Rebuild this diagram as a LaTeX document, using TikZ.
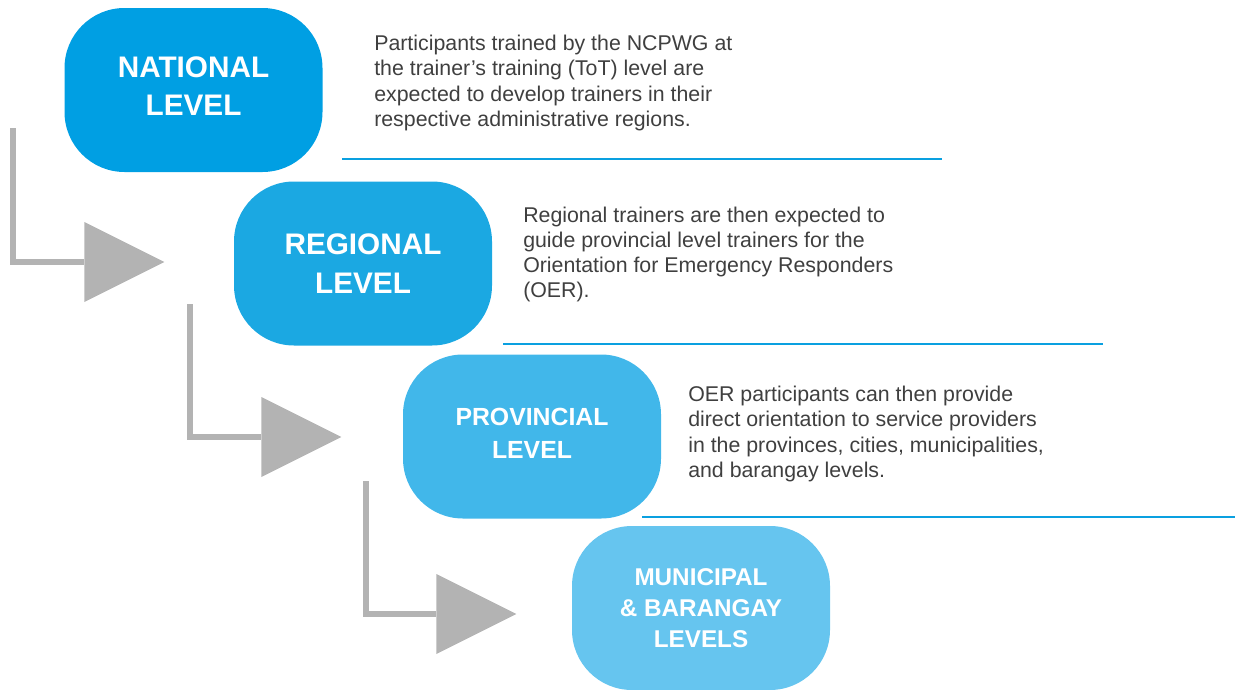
\documentclass[tikz,border=0pt]{standalone}
\usepackage{fontspec}
\setmainfont{Liberation Sans}
\usetikzlibrary{shapes.geometric}

\definecolor{natblue}{HTML}{009FE3}
\definecolor{regblue}{HTML}{1BA8E2}
\definecolor{provblue}{HTML}{41B7EA}
\definecolor{munblue}{HTML}{66C5EF}
\definecolor{ruleblue}{HTML}{0AA0E0}
\definecolor{arrgray}{HTML}{B3B3B3}
\definecolor{notegray}{HTML}{3F3F3F}

\begin{document}
\begin{tikzpicture}[x=0.75pt,y=-0.75pt,
    level/.style={rectangle,rounded corners=45pt,minimum width=193.5pt,
                  minimum height=123pt,text=white,align=center},
    note/.style={anchor=north west,inner sep=0pt,align=left,text=notegray,
                 font=\fontsize{16}{18.9}\selectfont},
    head/.style={isosceles triangle,isosceles triangle stretches,
                 shape border rotate=0,minimum width=60pt,minimum height=60pt,
                 inner sep=0pt,fill=arrgray,anchor=apex},
    flow/.style={draw=arrgray,line width=3.8pt},
    rule/.style={draw=ruleblue,line width=2pt}]
  \useasboundingbox (0,0) rectangle (1235,689);

  % the four levels (the invisible rules lift the text a little)
  \node[level,fill=natblue,font=\bfseries\fontsize{22.3}{28.9}\selectfont]
      (N) at (193.5,90) {NATIONAL\\LEVEL\rule[-6pt]{0pt}{6pt}};
  \node[level,fill=regblue,font=\bfseries\fontsize{22.3}{28.9}\selectfont]
      (R) at (363,263.5) {REGIONAL\\LEVEL};
  \node[level,fill=provblue,font=\bfseries\fontsize{18.6}{24.75}\selectfont]
      (P) at (532,436.5) {PROVINCIAL\\LEVEL\rule[-4.5pt]{0pt}{4.5pt}};
  \node[level,fill=munblue,font=\bfseries\fontsize{18.2}{23.25}\selectfont]
      (M) at (701,608) {MUNICIPAL\\\& BARANGAY\\LEVELS};

  % notes beside each level
  \node[note] (nN) at (374,35) {Participants trained by the NCPWG at\\
      the trainer's training (ToT) level are\\
      expected to develop trainers in their\\
      respective administrative regions.};
  \node[note] (nR) at (523,206.5) {Regional trainers are then expected to\\
      guide provincial level trainers for the\\
      Orientation for Emergency Responders\\
      (OER).};
  \node[note] (nP) at (688,386) {OER participants can then provide\\
      direct orientation to service providers\\
      in the provinces, cities, municipalities,\\
      and barangay levels.};

  % separators
  \draw[rule] (342,159) -- (942,159);
  \draw[rule] (503,344) -- (1103,344);
  \draw[rule] (642,517) -- (1235,517);

  % stepping arrows
  \coordinate (s1) at (13,128);
  \coordinate (s2) at (190,304);
  \coordinate (s3) at (366,481);
  \node[head] (t1) at (165,262) {};
  \node[head] (t2) at (342,437) {};
  \node[head] (t3) at (517,614) {};

  \draw[flow] (s1) |- (t1.lower side);
  \draw[flow] (s2) |- (t2.lower side);
  \draw[flow] (s3) |- (t3.lower side);
\end{tikzpicture}
\end{document}
